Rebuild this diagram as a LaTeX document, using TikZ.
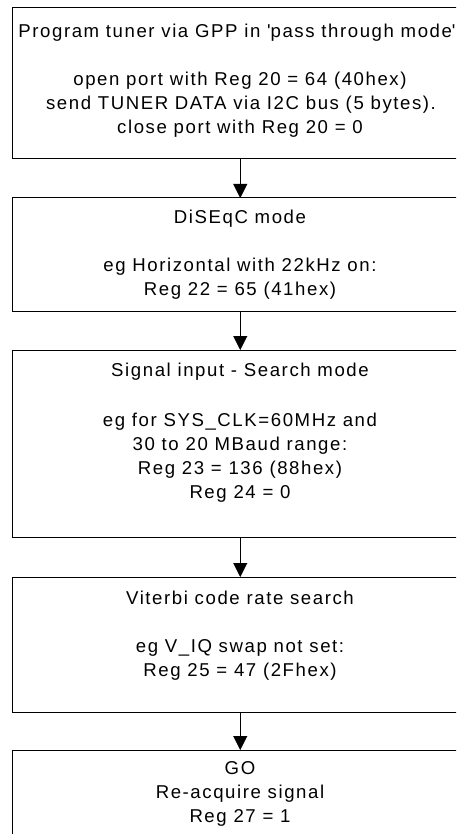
\documentclass[tikz,border=0pt]{standalone}
\usepackage{fontspec}
\setmainfont{Liberation Sans}[LetterSpace=8.5]
\usetikzlibrary{arrows.meta}
\begin{document}
\begin{tikzpicture}[x=1pt,y=-1pt,
  box/.style={draw=black, line width=1pt, rectangle, minimum width=455.5pt, outer sep=0pt, inner sep=0pt, anchor=north west},
  txt/.style={anchor=base, inner sep=0pt, font=\fontsize{18.6}{24}\selectfont},
  arr/.style={draw=black, line width=1pt, -{Triangle[width=14pt,length=14pt]}}]
\useasboundingbox (0,0) rectangle (456,834);
\clip (0,0) rectangle (456,834);
\node[box, minimum height=151pt] (b1) at (12.5,8) {};
\node[box, minimum height=113pt] (b2) at (12.5,198) {};
\node[box, minimum height=187pt] (b3) at (12.5,350) {};
\node[box, minimum height=135pt] (b4) at (12.5,577) {};
\node[box, minimum height=120pt] (b5) at (12.5,750) {};
\draw[arr] (b1.south) -- (b2.north);
\draw[arr] (b2.south) -- (b3.north);
\draw[arr] (b3.south) -- (b4.north);
\draw[arr] (b4.south) -- (b5.north);
\node[txt] (t1a) at (237,37.5) {Program tuner via GPP in \textquotesingle pass through mode\textquotesingle};
\node[txt] (t1b) at (240,85.5) {open port with Reg 20 = 64 (40hex)};
\node[txt] (t1c) at (241,109.5) {send TUNER DATA via I2C bus (5 bytes).};
\node[txt] (t1d) at (240,133.5) {close port with Reg 20 = 0};
\node[txt] (t2a) at (240,223.5) {DiSEqC mode};
\node[txt] (t2b) at (240,271.5) {eg Horizontal with 22kHz on:};
\node[txt] (t2c) at (240,295.5) {Reg 22 = 65 (41hex)};
\node[txt] (t3a) at (240,376.5) {Signal input - Search mode};
\node[txt] (t3b) at (240,426.5) {eg for SYS\_CLK=60MHz and};
\node[txt] (t3c) at (240,450.5) {30 to 20 MBaud range:};
\node[txt] (t3d) at (240,474.5) {Reg 23 = 136 (88hex)};
\node[txt] (t3e) at (240,498.5) {Reg 24 = 0};
\node[txt] (t4a) at (240,604.5) {Viterbi code rate search};
\node[txt] (t4b) at (240,652.5) {eg V\_IQ swap not set:};
\node[txt] (t4c) at (240,676.5) {Reg 25 = 47 (2Fhex)};
\node[txt] (t5a) at (240,774.5) {GO};
\node[txt] (t5b) at (240,798.5) {Re-acquire signal};
\node[txt] (t5c) at (240,822.5) {Reg 27 = 1};
\end{tikzpicture}
\end{document}
